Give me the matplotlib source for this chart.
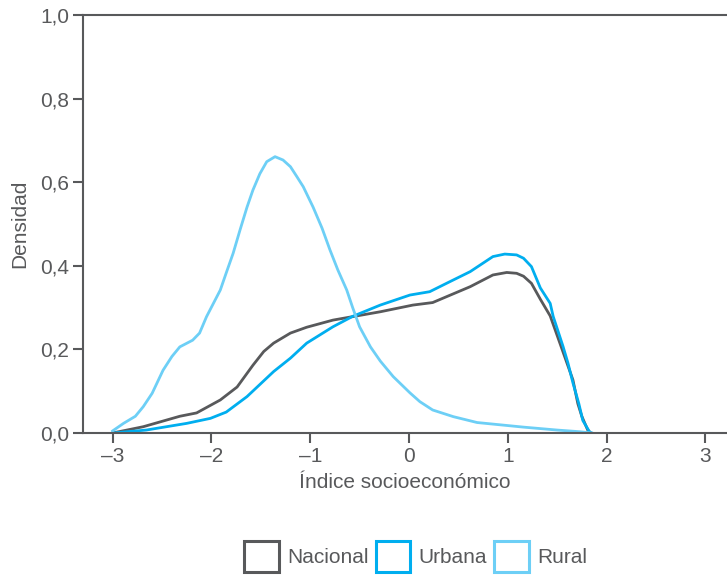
import matplotlib.pyplot as plt
from matplotlib.patches import Rectangle

# valores (densidad estimada)
x_nac = [-3.0, -2.69, -2.32, -2.15, -1.91, -1.74, -1.58, -1.47, -1.37, -1.20, -1.035, -0.77,
         -0.29, 0.04, 0.24, 0.38, 0.62, 0.85, 0.99, 1.09, 1.16, 1.24, 1.33, 1.43, 1.54, 1.66,
         1.71, 1.75, 1.81, 1.84]
y_nac = [0.0, 0.015, 0.04, 0.048, 0.079, 0.11, 0.162, 0.195, 0.215, 0.239, 0.253, 0.27,
         0.29, 0.306, 0.312, 0.326, 0.35, 0.378, 0.384, 0.382, 0.375, 0.358, 0.32, 0.28, 0.207,
         0.127, 0.07, 0.04, 0.007, 0.0]

x_urb = [-3.0, -2.66, -2.25, -2.01, -1.85, -1.64, -1.37, -1.20, -1.035, -0.77, -0.57, -0.29,
         0.01, 0.21, 0.38, 0.62, 0.85, 0.97, 1.09, 1.16, 1.24, 1.33, 1.43, 1.46, 1.56, 1.61,
         1.66, 1.72, 1.76, 1.83, 1.85]
y_urb = [0.0, 0.007, 0.023, 0.035, 0.05, 0.087, 0.147, 0.179, 0.215, 0.254, 0.279, 0.306,
         0.33, 0.338, 0.358, 0.386, 0.422, 0.428, 0.426, 0.418, 0.398, 0.347, 0.31, 0.279, 0.207,
         0.167, 0.12, 0.07, 0.03, 0.002, 0.0]

x_rur = [-3.0, -2.89, -2.77, -2.69, -2.60, -2.49, -2.40, -2.32, -2.19, -2.12, -2.05, -1.98,
         -1.91, -1.85, -1.78, -1.71, -1.64, -1.58, -1.51, -1.44, -1.356, -1.275, -1.2, -1.137,
         -1.07, -0.97, -0.88, -0.80, -0.72, -0.63, -0.57, -0.50, -0.39, -0.29, -0.16, 0.01,
         0.11, 0.24, 0.45, 0.69, 1.16, 1.5, 1.73, 1.85]
y_rur = [0.005, 0.023, 0.04, 0.063, 0.095, 0.15, 0.183, 0.206, 0.222, 0.239, 0.278, 0.31,
         0.342, 0.383, 0.43, 0.486, 0.54, 0.581, 0.62, 0.649, 0.661, 0.653, 0.637, 0.614,
         0.589, 0.54, 0.49, 0.438, 0.39, 0.342, 0.30, 0.254, 0.206, 0.172, 0.135, 0.096,
         0.075, 0.055, 0.039, 0.025, 0.014, 0.007, 0.003, 0.0]

series = ['Nacional', 'Urbana', 'Rural']
colores = ['#58595b', '#00aeef', '#6dcff6']
gris = '#58595b'

plt.rcParams['font.family'] = ['Liberation Sans', 'DejaVu Sans']

fig = plt.figure(figsize=(7.27, 5.78), dpi=100)
ax = fig.add_axes([0.1142, 0.2509, 0.8858, 0.7232])

datos = [(x_nac, y_nac), (x_urb, y_urb), (x_rur, y_rur)]
for (xs, ys), c, nombre in zip(datos, colores, series):
    ax.plot(xs, ys, color=c, lw=2.0, label=nombre, solid_joinstyle='round')

ax.set_xlim(-3.30, 3.22)
ax.set_ylim(0, 1.0)
ax.set_xticks([-3, -2, -1, 0, 1, 2, 3])
ax.set_xticklabels(['–3', '–2', '–1', '0', '1', '2', '3'])
ax.set_yticks([0, 0.2, 0.4, 0.6, 0.8, 1.0])
ax.set_yticklabels(['0,0', '0,2', '0,4', '0,6', '0,8', '1,0'])

for s in ['left', 'bottom', 'top']:
    ax.spines[s].set_color(gris)
    ax.spines[s].set_linewidth(1.5)
ax.spines['right'].set_visible(False)
ax.tick_params(colors=gris, labelcolor=gris, labelsize=15, length=7, width=1.5,
               direction='out', pad=3)
ax.set_xlabel('Índice socioeconómico', color=gris, fontsize=15, labelpad=5)
ax.set_ylabel('Densidad', color=gris, fontsize=15, labelpad=8)

handles = [Rectangle((0, 0), 1, 1, facecolor='none', edgecolor=c, lw=2.2) for c in colores]
fig.legend(handles, series, loc='center', bbox_to_anchor=(0.572, 0.037), ncol=3, frameon=False,
           fontsize=15, handlelength=1.65, handleheight=1.9, handletextpad=0.4,
           columnspacing=0.35, labelcolor=gris)

fig.savefig('out.png', dpi=100)
